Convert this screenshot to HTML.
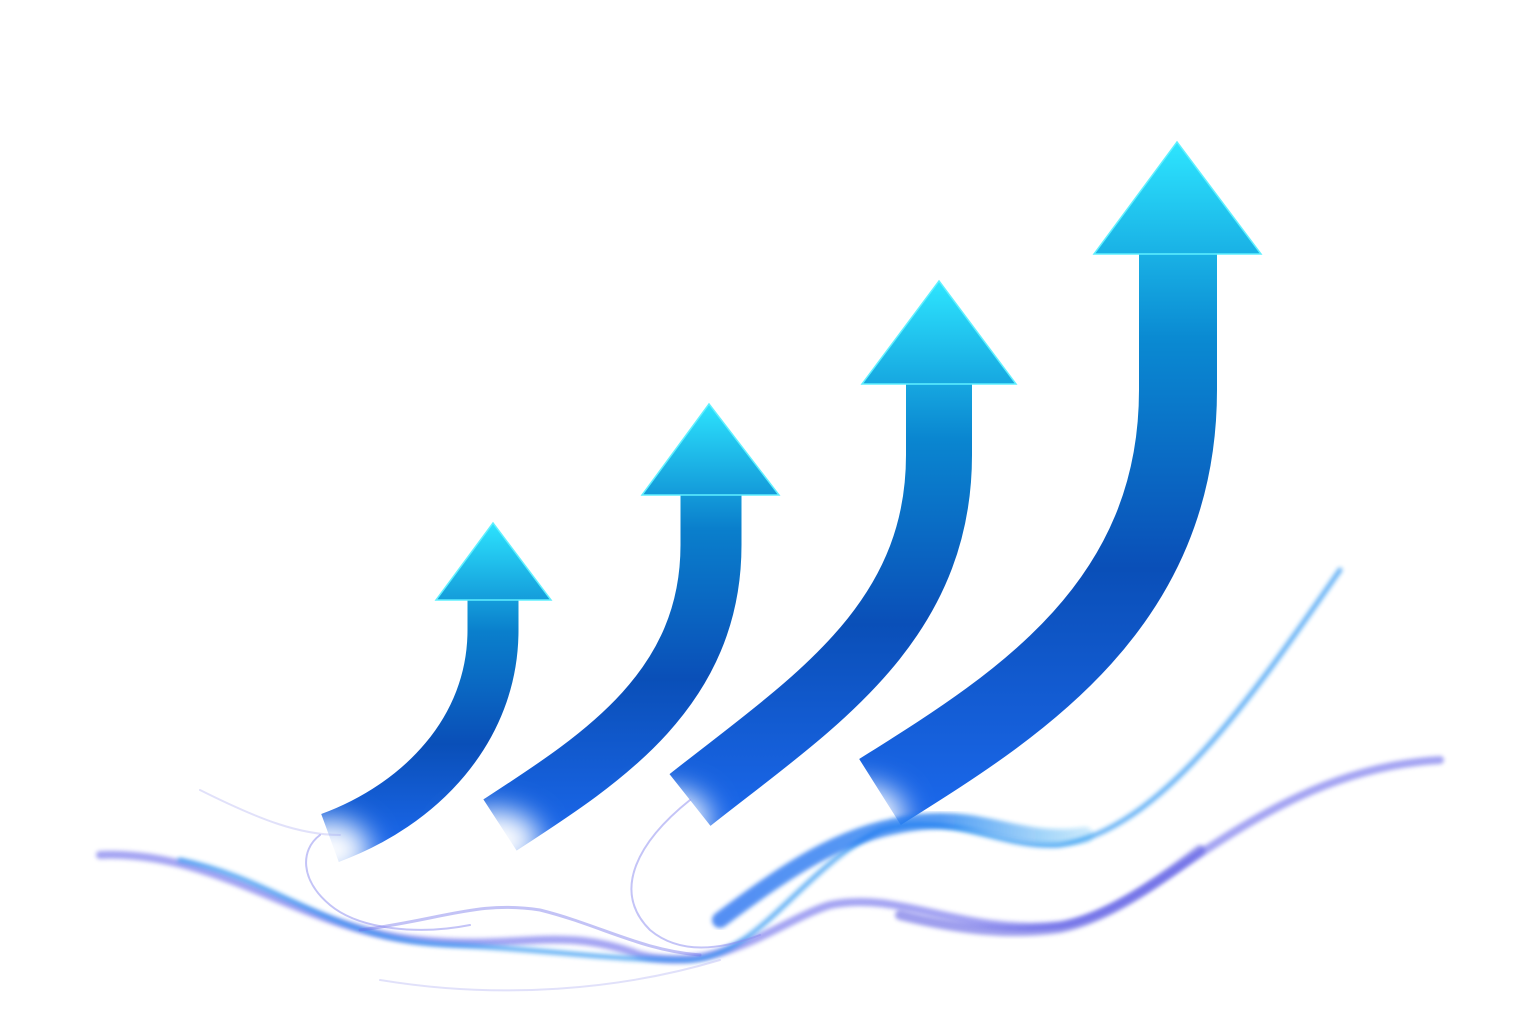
<!DOCTYPE html>
<html><head><meta charset="utf-8"><style>html,body{margin:0;padding:0;background:#fff}svg{display:block}</style></head>
<body>
<svg width="1536" height="1024" viewBox="0 0 1536 1024" xmlns="http://www.w3.org/2000/svg">
<defs>
<linearGradient id="g1" gradientUnits="userSpaceOnUse" x1="0" y1="520" x2="0" y2="840"><stop offset="0" stop-color="#2ee6ff"/><stop offset="0.35" stop-color="#0a7fcc"/><stop offset="0.7" stop-color="#0a4fb8"/><stop offset="1" stop-color="#1a66e8"/></linearGradient>
<linearGradient id="g2" gradientUnits="userSpaceOnUse" x1="0" y1="400" x2="0" y2="830"><stop offset="0" stop-color="#2ee6ff"/><stop offset="0.3" stop-color="#0a7fcc"/><stop offset="0.65" stop-color="#0a4fb8"/><stop offset="1" stop-color="#1a66e8"/></linearGradient>
<linearGradient id="g3" gradientUnits="userSpaceOnUse" x1="0" y1="280" x2="0" y2="810"><stop offset="0" stop-color="#2ee6ff"/><stop offset="0.3" stop-color="#0a86d0"/><stop offset="0.65" stop-color="#0a4fb8"/><stop offset="1" stop-color="#1a66e8"/></linearGradient>
<linearGradient id="g4" gradientUnits="userSpaceOnUse" x1="0" y1="140" x2="0" y2="800"><stop offset="0" stop-color="#2ee6ff"/><stop offset="0.3" stop-color="#0a8ad2"/><stop offset="0.65" stop-color="#0a4fb8"/><stop offset="1" stop-color="#1a66e8"/></linearGradient>
<linearGradient id="wb" gradientUnits="userSpaceOnUse" x1="720" y1="0" x2="1090" y2="0"><stop offset="0" stop-color="#1a6af0"/><stop offset="0.6" stop-color="#1a7af0"/><stop offset="1" stop-color="#1aa0f0" stop-opacity="0.3"/></linearGradient>
<filter id="blur"><feGaussianBlur stdDeviation="2"/></filter>
<filter id="bigblur" x="-50%" y="-50%" width="200%" height="200%"><feGaussianBlur stdDeviation="14"/></filter>
</defs>
<!-- arrows -->
<g fill="none" stroke-linecap="butt">
<path d="M493,598 L493,630 C493,730 420,805 330,838" stroke="url(#g1)" stroke-width="51"/>
<path d="M711,493 L711,545 C711,690 600,760 500,825" stroke="url(#g2)" stroke-width="61"/>
<path d="M939,382 L939,455 C939,625 810,705 690,800" stroke="url(#g3)" stroke-width="66"/>
<path d="M1178,252 L1178,390 C1178,610 1010,710 880,792" stroke="url(#g4)" stroke-width="78"/>
</g>
<polygon points="493,523 551,600 436,600" fill="url(#g1)" stroke="#5ff0ff" stroke-width="1.5"/>
<polygon points="709,404 779,495 642,495" fill="url(#g2)" stroke="#5ff0ff" stroke-width="1.5"/>
<polygon points="939,281 1016,384 862,384" fill="url(#g3)" stroke="#5ff0ff" stroke-width="1.5"/>
<polygon points="1177,142 1261,254 1094,254" fill="url(#g4)" stroke="#5ff0ff" stroke-width="1.5"/>
<!-- fade ends -->
<g fill="#fff" filter="url(#bigblur)">
<ellipse cx="330" cy="850" rx="40" ry="30"/>
<ellipse cx="495" cy="840" rx="45" ry="30"/>
<ellipse cx="670" cy="820" rx="40" ry="30"/>
<ellipse cx="860" cy="815" rx="45" ry="30"/>
</g>
<!-- waves -->
<g fill="none" stroke-linecap="round">
<path d="M100,855 C220,850 300,930 420,940 C520,950 560,925 640,955 C720,975 780,920 830,905 C900,890 960,935 1060,925 C1160,910 1260,770 1440,760" stroke="#5a5ae8" stroke-width="8" opacity="0.55" filter="url(#blur)"/>
<path d="M900,915 C960,930 1010,935 1060,928 C1110,918 1160,880 1200,850" stroke="#5050e0" stroke-width="10" opacity="0.55" filter="url(#blur)"/>
<path d="M180,860 C280,880 330,940 450,945 C560,950 600,960 690,960 C760,955 800,870 880,830 C950,810 1000,850 1060,845 C1160,830 1250,700 1340,570" stroke="#1a8cf0" stroke-width="5" opacity="0.65" filter="url(#blur)"/>
<path d="M720,920 C800,860 850,830 920,822 C990,815 1020,845 1085,835" stroke="url(#wb)" stroke-width="16" opacity="0.75" filter="url(#blur)"/>
<path d="M360,930 C440,920 480,900 540,910 C600,925 640,950 700,955" stroke="#6a6ae8" stroke-width="3" opacity="0.4"/>
<path d="M320,835 C300,850 300,880 330,905 C360,930 420,935 470,925" stroke="#8a8af0" stroke-width="2" opacity="0.5"/>
<path d="M690,800 C640,840 610,890 650,930 C680,955 720,950 760,935" stroke="#8a8af0" stroke-width="2" opacity="0.5"/>
<path d="M200,790 C260,820 300,835 340,835" stroke="#9a9af0" stroke-width="2" opacity="0.3"/>
<path d="M380,980 C500,1000 620,990 720,960" stroke="#9a9af0" stroke-width="2" opacity="0.3"/>
</g>
</svg>
</body></html>
